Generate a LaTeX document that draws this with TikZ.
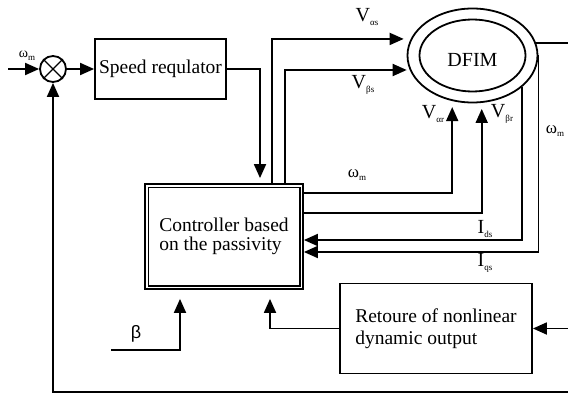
\documentclass[tikz,border=0pt]{standalone}
\usepackage{fontspec}
\setmainfont{Liberation Serif}
\newfontfamily\lsans{Liberation Sans}
\usetikzlibrary{shapes.geometric,arrows.meta}
\newcommand\lsub[1]{\raisebox{-0.45ex}{\fontsize{9}{9}\selectfont #1}}
\begin{document}
\begin{tikzpicture}[x=1pt,y=-1pt,
  line width=1.8pt,
  arr/.style={-{Triangle[length=14pt,width=12pt]}},
  box/.style={draw, rectangle, inner sep=0pt, align=center},
  lbl/.style={inner sep=0pt, font=\fontsize{20}{20}\selectfont},
]
\useasboundingbox (0,0) rectangle (568,396);

% blocks
\node[draw, circle, minimum size=26pt, inner sep=0pt] (sum) at (53,69) {};
\draw[line width=1.4pt] (sum.north west) -- (sum.south east) (sum.north east) -- (sum.south west);
\node[box, minimum width=131pt, minimum height=60pt, font=\fontsize{19.5}{19.5}\selectfont] (sr) at (160.5,69) {Speed requlator};
\node[box, minimum width=158pt, minimum height=105pt, align=left, font=\fontsize{19.5}{19}\selectfont] (ctrl) at (224,236.5) {Controller based\\on the passivity};
\draw[line width=1.2pt] ([shift={(4,4)}]ctrl.north west) rectangle ([shift={(-4,-4)}]ctrl.south east);
\node[box, minimum width=192pt, minimum height=90pt, align=left, font=\fontsize{19.5}{21.5}\selectfont] (ret) at (436,328.5) {Retoure of nonlinear\\dynamic output};
\node[draw, ellipse, minimum width=130pt, minimum height=94pt, inner sep=0pt] (dfo) at (472.5,55.5) {};
\node[draw, ellipse, minimum width=106pt, minimum height=72pt, inner sep=0pt] (dfi) at (472.5,55.5) {};
\node[inner sep=0pt, font=\fontsize{20}{20}\selectfont] (dfimt) at (472.5,60) {DFIM};

% free ends
\coordinate (in) at (8,69);
\coordinate (bs) at (111,350);
\coordinate (fb) at (568,392);

% connectors
\draw[arr] (in) -- (sum.west);
\draw[arr] (sum.east) -- (sr.west);
\draw[arr, shorten >=5pt] (sr.east) -| ([xshift=36pt]ctrl.north);
\draw[arr, shorten >=7pt] ([xshift=48pt]ctrl.north) |- (dfo.165.8);
\draw[arr, shorten >=3pt] ([xshift=61pt]ctrl.north) |- (dfo.193.2);
\draw[arr, shorten >=6pt] (ctrl.east |- 0,193) -| (dfo.246.5);
\draw[arr, shorten >=6pt] (ctrl.east |- 0,213) -| (dfo.281.5);
\draw[arr] (dfo.327) |- (ctrl.east |- 0,240);
\draw[arr] (dfo.east) |- (ctrl.east |- 0,252);
\draw (dfo.11.3) -- (dfo.11.3 -| 568,0);
\draw[arr] (ret.east -| 568,0) -- (ret.east);
\draw[arr, shorten >=9pt] (ret.west) -| ([xshift=46pt]ctrl.south);
\draw[arr, shorten >=9pt] (bs) -| ([xshift=-44pt]ctrl.south);
\draw[arr] (fb) -| (sum.south);

% labels
\node[inner sep=0pt, font=\fontsize{14}{14}\selectfont] (lwin) at (27,56) {ω\lsub{m}};
\node[lbl] (lvas) at (367,17) {V\lsub{αs}};
\node[lbl] (lvbs) at (363,85) {V\lsub{βs}};
\node[lbl] (lvar) at (433,114) {V\lsub{αr}};
\node[lbl] (lvbr) at (502,114) {V\lsub{βr}};
\node[inner sep=0pt, font=\fontsize{17}{17}\selectfont] (lwm) at (357,175) {ω\lsub{m}};
\node[inner sep=0pt, font=\fontsize{17}{17}\selectfont] (lwr) at (555,131) {ω\lsub{m}};
\node[lbl] (lids) at (485,229) {I\lsub{ds}};
\node[lbl] (liqs) at (485,263) {I\lsub{qs}};
\node[inner sep=0pt, font=\lsans\fontsize{18}{18}\selectfont] (lbeta) at (136,334) {β};
\end{tikzpicture}
\end{document}
